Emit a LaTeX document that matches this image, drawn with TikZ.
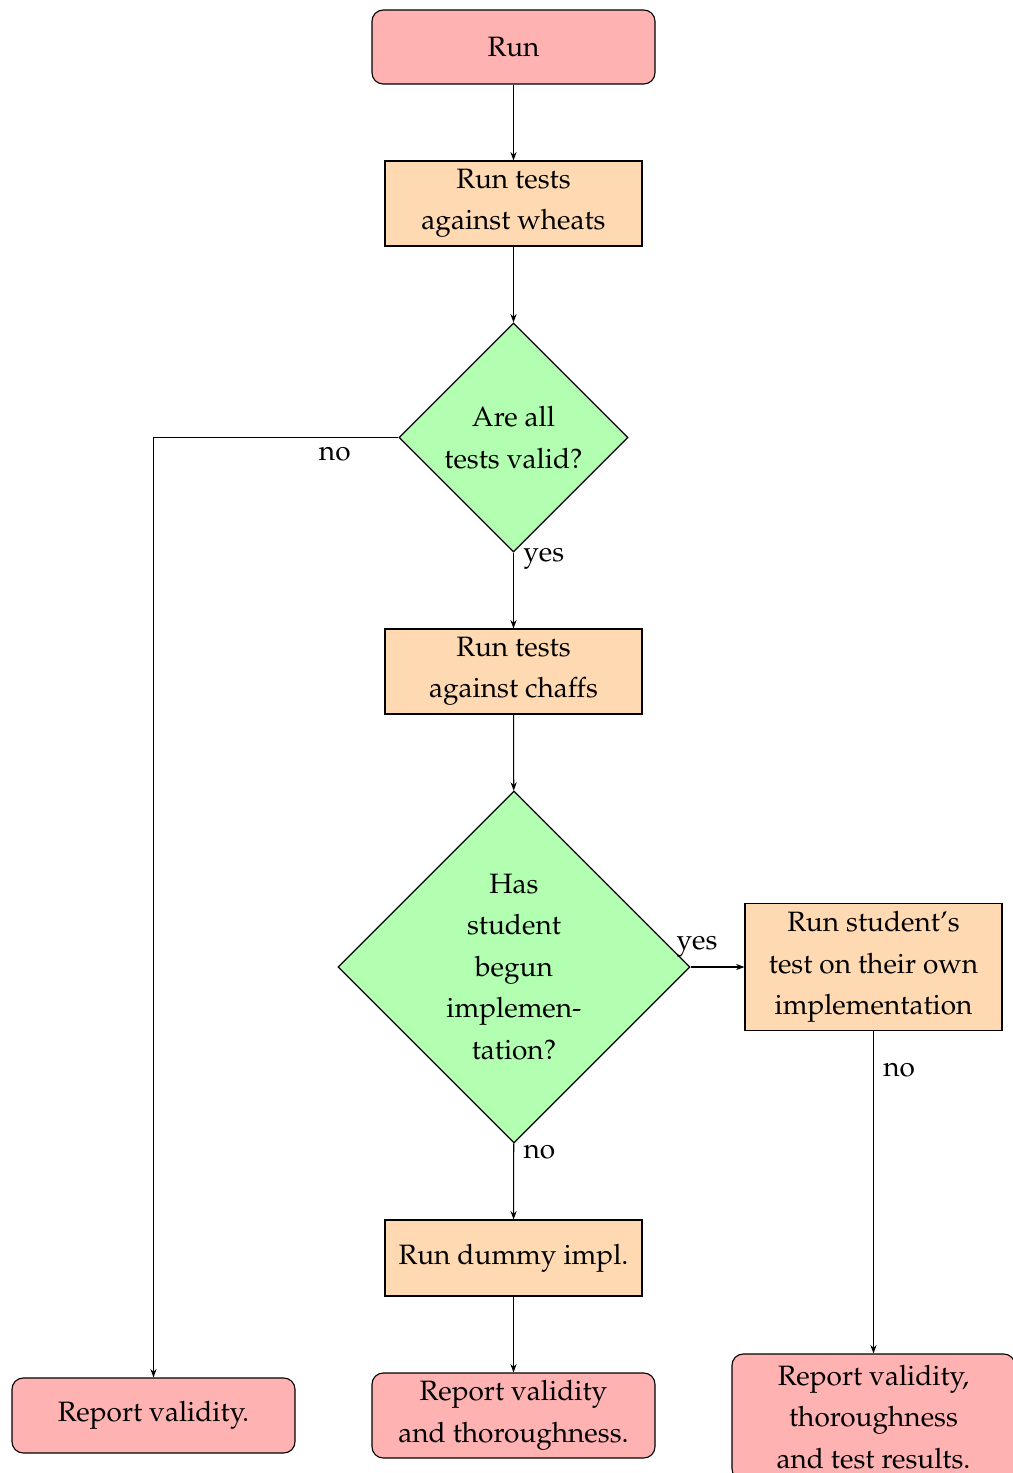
\documentclass[tikz,border=0pt]{standalone}
\usepackage[T1]{fontenc}
\usepackage{mathpazo}
\usetikzlibrary{shapes.geometric,arrows.meta}
\def\pxu{0.357pt}
\begin{document}
\begin{tikzpicture}[x=0.357pt,y=-0.357pt,
  every node/.style={font={\fontsize{10pt}{14.8pt}\selectfont}},
  termbox/.style={rectangle, rounded corners=4pt, draw, fill=red!30, align=center,
    minimum width=283*\pxu, inner ysep=0pt},
  procbox/.style={rectangle, draw, fill=orange!30, align=center,
    minimum width=257*\pxu, inner ysep=0pt},
  decision/.style={diamond, draw, fill=green!30, align=center, aspect=1, inner sep=0pt},
  conn/.style={draw, -{Stealth[length=3pt,width=2.2pt]}},
  lbl/.style={inner sep=3.33pt}
]
\useasboundingbox (0,0) rectangle (1013,1473);

\node[termbox, minimum height=74*\pxu] (run) at (513.5,47) {Run};
\node[procbox, minimum height=85*\pxu] (wheat) at (513.5,203.5) {Run tests\\against wheats};
\node[decision, minimum width=229*\pxu, minimum height=229*\pxu] (valid) at (513.5,437.5) {Are all\\tests valid?};
\node[procbox, minimum height=85*\pxu] (chaff) at (513.5,671.5) {Run tests\\against chaffs};
\node[decision, minimum width=352*\pxu, minimum height=352*\pxu] (begun) at (514,967) {Has\\student\\begun\\implemen-\\tation?};
\node[procbox, minimum height=127*\pxu] (student) at (873.5,967) {Run student's\\test on their own\\implementation};
\node[procbox, minimum height=76*\pxu] (dummy) at (513.5,1258) {Run dummy impl.};
\node[termbox, minimum height=75*\pxu] (rep1) at (153.5,1415.5) {Report validity.};
\node[termbox, minimum height=85*\pxu] (rep2) at (513.5,1415.5) {Report validity\\and thoroughness.};
\node[termbox, minimum height=126*\pxu] (rep3) at (873.5,1417) {Report validity,\\thoroughness\\and test results.};

\draw[conn] (run) -- (wheat);
\draw[conn] (wheat) -- (valid);
\draw[conn] (valid.west) -| node[lbl, pos=0.13, below] {no} (rep1);
\draw[conn] (valid) -- node[lbl, pos=0.08, right] {yes} (chaff);
\draw[conn] (chaff) -- (begun);
\draw[conn] (begun.east) -- node[lbl, pos=0.12, above] {yes} (student.west);
\draw[conn] (begun) -- node[lbl, pos=0.12, right] {no} (dummy);
\draw[conn] (dummy) -- (rep2);
\draw[conn] (student) -- node[lbl, pos=0.12, right] {no} (rep3);
\end{tikzpicture}
\end{document}
